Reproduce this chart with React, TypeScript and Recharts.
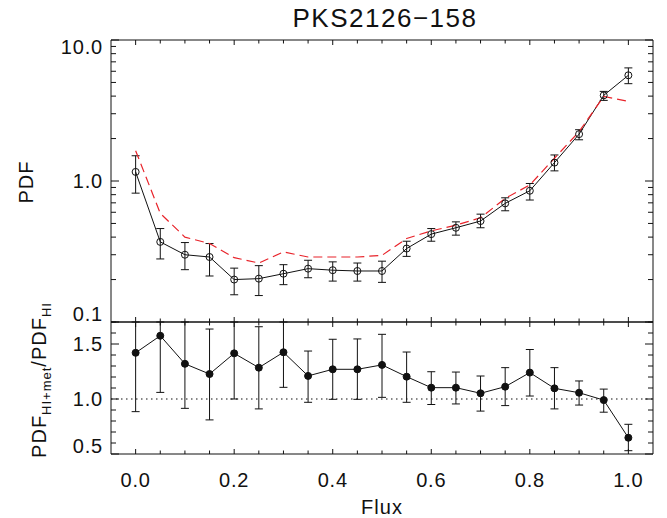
import { ComposedChart, Line, XAxis, YAxis, ErrorBar, ReferenceLine } from "recharts";

const flux = [0, 0.05, 0.1, 0.15, 0.2, 0.25, 0.3, 0.35, 0.4, 0.45, 0.5, 0.55, 0.6, 0.65, 0.7, 0.75, 0.8, 0.85, 0.9, 0.95, 1.0];

// PDF of HI + metals (black open circles)
const pdfMet = [1.16, 0.37, 0.3, 0.289, 0.2, 0.203, 0.22, 0.239, 0.233, 0.23, 0.23, 0.332, 0.42, 0.466, 0.52, 0.694, 0.853, 1.35, 2.15, 4.05, 5.62];
const pdfMetLo = [0.82, 0.28, 0.235, 0.212, 0.156, 0.154, 0.184, 0.206, 0.195, 0.195, 0.191, 0.292, 0.374, 0.413, 0.466, 0.615, 0.733, 1.18, 1.96, 3.73, 4.9];
const pdfMetHi = [1.51, 0.46, 0.366, 0.36, 0.241, 0.251, 0.255, 0.274, 0.267, 0.262, 0.27, 0.374, 0.46, 0.513, 0.582, 0.76, 0.96, 1.53, 2.31, 4.32, 6.34];

// PDF of HI only (red dashed)
const pdfHI = [1.64, 0.59, 0.4, 0.36, 0.286, 0.262, 0.314, 0.289, 0.289, 0.289, 0.297, 0.391, 0.443, 0.486, 0.548, 0.753, 0.937, 1.45, 2.24, 3.98, 3.67];

// ratio panel
const ratio = [1.42, 1.575, 1.32, 1.227, 1.415, 1.285, 1.425, 1.21, 1.27, 1.27, 1.31, 1.203, 1.103, 1.103, 1.052, 1.112, 1.24, 1.097, 1.057, 0.99, 0.648];
const ratioLo = [0.885, 1.06, 0.915, 0.81, 1.0, 0.91, 1.106, 0.97, 0.997, 0.997, 1.015, 0.97, 0.95, 0.955, 0.89, 0.94, 1.027, 0.91, 0.945, 0.88, 0.53];
const ratioHi = [1.7, 1.7, 1.7, 1.636, 1.7, 1.657, 1.7, 1.436, 1.543, 1.546, 1.588, 1.427, 1.248, 1.245, 1.209, 1.285, 1.45, 1.285, 1.164, 1.09, 0.77];

const xTicks = [0, 0.05, 0.1, 0.15, 0.2, 0.25, 0.3, 0.35, 0.4, 0.45, 0.5, 0.55, 0.6, 0.65, 0.7, 0.75, 0.8, 0.85, 0.9, 0.95, 1.0];
const xMajor = [0, 0.2, 0.4, 0.6, 0.8, 1.0];
const logTicks = [0.1, 0.2, 0.3, 0.4, 0.5, 0.6, 0.7, 0.8, 0.9, 1, 2, 3, 4, 5, 6, 7, 8, 9, 10];
const logMajor = [0.1, 1, 10];
const ratioTicks = [0.5, 0.6, 0.7, 0.8, 0.9, 1.0, 1.1, 1.2, 1.3, 1.4, 1.5, 1.6, 1.7];
const ratioMajor = [0.5, 1.0, 1.5];

const topData = flux.map((x, i) => ({
  x,
  met: pdfMet[i],
  metErr: [pdfMet[i] - pdfMetLo[i], pdfMetHi[i] - pdfMet[i]],
  hi: pdfHI[i],
}));
const botData = flux.map((x, i) => ({
  x,
  r: ratio[i],
  rErr: [ratio[i] - ratioLo[i], ratioHi[i] - ratio[i]],
}));

const FONT = "'Liberation Sans', Arial, sans-serif";
const INK = "#111";

const near = (a: number, b: number) => Math.abs(a - b) < 1e-9;

function tickFactory(
  side: "left" | "right" | "top" | "bottom",
  majors: number[],
  opts: { label?: (v: number) => string; lo?: number; hi?: number; major?: number; minor?: number } = {}
) {
  return (props: any) => {
    const { x, y, payload } = props;
    const v = payload.value as number;
    const isMaj = majors.some((m) => near(m, v));
    const len = isMaj ? opts.major ?? 8 : opts.minor ?? 5;
    let line;
    if (side === "left") line = <line x1={x} x2={x + len} y1={y} y2={y} stroke={INK} />;
    else if (side === "right") line = <line x1={x} x2={x - len} y1={y} y2={y} stroke={INK} />;
    else if (side === "top") line = <line x1={x} x2={x} y1={y} y2={y + len} stroke={INK} />;
    else line = <line x1={x} x2={x} y1={y} y2={y - len} stroke={INK} />;
    let text = null;
    if (isMaj && opts.label) {
      if (side === "left") {
        let dy = 0;
        if (opts.hi !== undefined && near(v, opts.hi)) dy = 7;
        if (opts.lo !== undefined && near(v, opts.lo)) dy = -8;
        text = (
          <text x={x - 8} y={y + dy} textAnchor="end" dominantBaseline="central" fontSize={20} fontFamily={FONT} fill={INK} letterSpacing={0.8}>
            {opts.label(v)}
          </text>
        );
      } else if (side === "bottom") {
        text = (
          <text x={x} y={y + 26} textAnchor="middle" dominantBaseline="central" fontSize={20} fontFamily={FONT} fill={INK} letterSpacing={0.8}>
            {opts.label(v)}
          </text>
        );
      }
    }
    return (
      <g>
        {line}
        {text}
      </g>
    );
  };
}

const fmt1 = (v: number) => v.toFixed(1);

export default function App() {
  return (
    <div style={{ position: "absolute", left: 0, top: 0, width: 667, height: 518, background: "#fff" }}>
      <svg width={667} height={518} style={{ position: "absolute", left: 0, top: 0 }}>
        <text x={385} y={27} textAnchor="middle" fontSize={26} fontFamily={FONT} fill={INK} letterSpacing={1.5}>
          PKS2126−158
        </text>
        <text transform="translate(33,182) rotate(-90)" textAnchor="middle" fontSize={20} fontFamily={FONT} fill={INK} letterSpacing={1}>
          PDF
        </text>
        <text transform="translate(46,380) rotate(-90)" textAnchor="middle" fontSize={20} fontFamily={FONT} fill={INK} letterSpacing={1}>
          <tspan>PDF</tspan>
          <tspan fontSize={13} dy={5}>HI+met</tspan>
          <tspan dy={-5}>/PDF</tspan>
          <tspan fontSize={13} dy={5}>HI</tspan>
        </text>
        <text x={382} y={514} textAnchor="middle" fontSize={20} fontFamily={FONT} fill={INK} letterSpacing={1}>
          Flux
        </text>
      </svg>

      <div style={{ position: "absolute", left: 0, top: 0 }}>
        <ComposedChart width={667} height={330} data={topData} margin={{ top: 0, right: 0, bottom: 0, left: 0 }}>
          <XAxis xAxisId="b" dataKey="x" type="number" domain={[-0.05, 1.05]} allowDataOverflow ticks={xTicks} interval={0}
            orientation="bottom" height={8} tickSize={0} tickMargin={0} tickLine={false} axisLine={{ stroke: INK }}
            tick={tickFactory("bottom", xMajor, { major: 5, minor: 3.5 })} />
          <XAxis xAxisId="t" dataKey="x" type="number" domain={[-0.05, 1.05]} allowDataOverflow ticks={xTicks} interval={0}
            orientation="top" height={40} tickSize={0} tickMargin={0} tickLine={false} axisLine={{ stroke: INK }}
            tick={tickFactory("top", xMajor, { major: 5, minor: 3.5 })} />
          <YAxis yAxisId="l" type="number" scale="log" domain={[0.1, 10]} allowDataOverflow ticks={logTicks} interval={0}
            orientation="left" width={111} tickSize={0} tickMargin={0} tickLine={false} axisLine={{ stroke: INK }}
            tick={tickFactory("left", logMajor, { label: fmt1, lo: 0.1, hi: 10 })} />
          <YAxis yAxisId="r" type="number" scale="log" domain={[0.1, 10]} allowDataOverflow ticks={logTicks} interval={0}
            orientation="right" width={14} tickSize={0} tickMargin={0} tickLine={false} axisLine={{ stroke: INK }}
            tick={tickFactory("right", logMajor)} />
          <Line xAxisId="b" yAxisId="l" dataKey="met" type="linear" stroke={INK} strokeWidth={1}
            dot={{ r: 3.5, stroke: INK, fill: "none", strokeWidth: 1 }} isAnimationActive={false}>
            <ErrorBar dataKey="metErr" direction="y" width={4} stroke={INK} strokeWidth={1} isAnimationActive={false} />
          </Line>
          <Line xAxisId="b" yAxisId="l" dataKey="hi" type="linear" stroke="#e8232a" strokeWidth={1.2}
            strokeDasharray="9 5" dot={false} isAnimationActive={false} />
        </ComposedChart>
      </div>

      <div style={{ position: "absolute", left: 0, top: 312 }}>
        <ComposedChart width={667} height={206} data={botData} margin={{ top: 0, right: 0, bottom: 0, left: 0 }}>
          <XAxis xAxisId="b" dataKey="x" type="number" domain={[-0.05, 1.05]} allowDataOverflow ticks={xTicks} interval={0}
            orientation="bottom" height={64} tickSize={0} tickMargin={0} tickLine={false} axisLine={{ stroke: INK }}
            tick={tickFactory("bottom", xMajor, { label: fmt1, major: 5, minor: 3.5 })} />
          <XAxis xAxisId="t" dataKey="x" type="number" domain={[-0.05, 1.05]} allowDataOverflow ticks={xTicks} interval={0}
            orientation="top" height={10} tickSize={0} tickMargin={0} tickLine={false} axisLine={{ stroke: INK }}
            tick={tickFactory("top", xMajor, { major: 5, minor: 3.5 })} />
          <YAxis yAxisId="l" type="number" domain={[0.5, 1.7]} allowDataOverflow ticks={ratioTicks} interval={0}
            orientation="left" width={111} tickSize={0} tickMargin={0} tickLine={false} axisLine={{ stroke: INK }}
            tick={tickFactory("left", ratioMajor, { label: fmt1, lo: 0.5 })} />
          <YAxis yAxisId="r" type="number" domain={[0.5, 1.7]} allowDataOverflow ticks={ratioTicks} interval={0}
            orientation="right" width={14} tickSize={0} tickMargin={0} tickLine={false} axisLine={{ stroke: INK }}
            tick={tickFactory("right", ratioMajor)} />
          <ReferenceLine xAxisId="b" yAxisId="l" y={1} stroke={INK} strokeDasharray="1.5 3.5" strokeWidth={1.2} />
          <Line xAxisId="b" yAxisId="l" dataKey="r" type="linear" stroke={INK} strokeWidth={1}
            dot={{ r: 3.5, stroke: INK, fill: INK, strokeWidth: 1 }} isAnimationActive={false}>
            <ErrorBar dataKey="rErr" direction="y" width={4} stroke={INK} strokeWidth={1} isAnimationActive={false} />
          </Line>
        </ComposedChart>
      </div>
    </div>
  );
}
